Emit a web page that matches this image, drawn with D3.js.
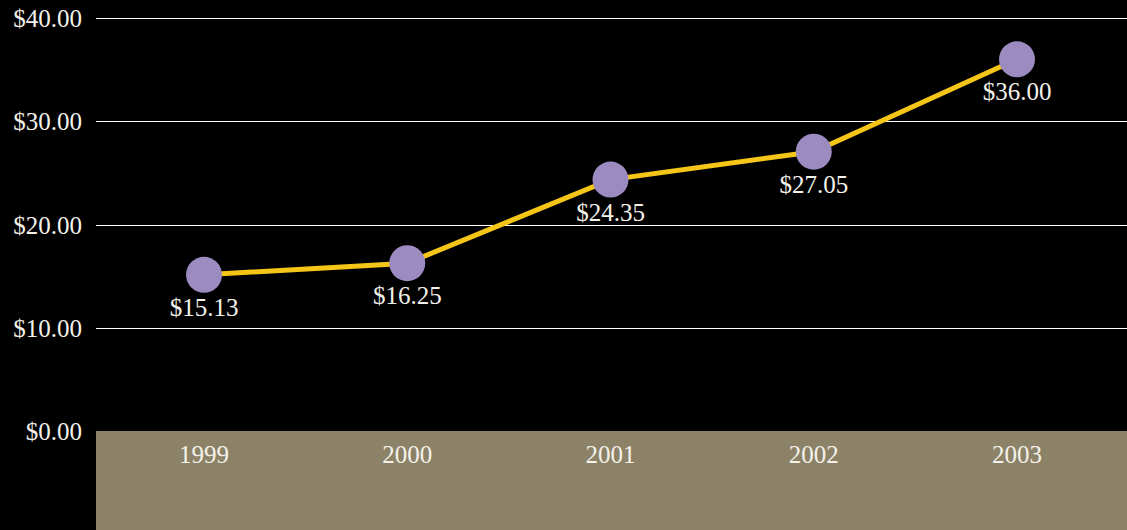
<!DOCTYPE html>
<html>
<head>
<meta charset="utf-8">
<script src="https://cdn.jsdelivr.net/npm/d3@7"></script>
<style>
  body { margin: 0; background: #000; }
  text { font-family: "Liberation Serif", "Times New Roman", serif; fill: #f4f2ea; }
</style>
</head>
<body>
<div id="chart"></div>
<script>
// share price by year
var years = ["1999", "2000", "2001", "2002", "2003"];
var prices = [15.13, 16.25, 24.35, 27.05, 36.00];
var yTicks = [0, 10, 20, 30, 40];

const width = 1127;
const height = 530;

var svg = d3.select("#chart").append("svg")
  .attr("width", width)
  .attr("height", height);

svg.append("rect")
  .attr("width", width).attr("height", height)
  .style("fill", "#000");

var x = d3.scalePoint().domain(years).range([204, 1017]);
var y = d3.scaleLinear().domain([0, 40]).range([431, 18]);

var fmt = function(v) { return "$" + d3.format(",.2f")(v); };

// floor band
svg.append("rect")
  .attr("x", 96).attr("y", y(0))
  .attr("width", width - 96).attr("height", height - y(0))
  .style("fill", "#8c8268");

// gridlines
svg.append("g").selectAll("line")
  .data(yTicks.filter(function(d) { return d > 0; }))
  .enter().append("line")
  .attr("x1", 96).attr("x2", width)
  .attr("y1", function(d) { return Math.round(y(d)) + 0.5; })
  .attr("y2", function(d) { return Math.round(y(d)) + 0.5; })
  .style("stroke", "#ffffff")
  .style("stroke-width", 1);

// y labels
svg.append("g").selectAll("text")
  .data(yTicks)
  .enter().append("text")
  .attr("x", 82)
  .attr("y", function(d) { return y(d) + 9; })
  .attr("text-anchor", "end")
  .style("font-size", "25px")
  .text(fmt);

// x labels
svg.append("g").selectAll("text")
  .data(years)
  .enter().append("text")
  .attr("x", function(d) { return x(d); })
  .attr("y", 463)
  .attr("text-anchor", "middle")
  .style("font-size", "25px")
  .text(function(d) { return d; });

var pts = years.map(function(yr, i) { return { year: yr, value: prices[i] }; });

svg.append("path")
  .datum(pts)
  .attr("d", d3.line()
    .x(function(d) { return x(d.year); })
    .y(function(d) { return y(d.value); }))
  .style("fill", "none")
  .style("stroke", "#f5c518")
  .style("stroke-width", 5);

svg.append("g").selectAll("circle")
  .data(pts)
  .enter().append("circle")
  .attr("cx", function(d) { return x(d.year); })
  .attr("cy", function(d) { return y(d.value); })
  .attr("r", 18)
  .style("fill", "#9b8bc0");

svg.append("g").selectAll("text")
  .data(pts)
  .enter().append("text")
  .attr("x", function(d) { return x(d.year); })
  .attr("y", function(d) { return y(d.value) + 41; })
  .attr("text-anchor", "middle")
  .style("font-size", "25px")
  .text(function(d) { return fmt(d.value); });
</script>
</body>
</html>
